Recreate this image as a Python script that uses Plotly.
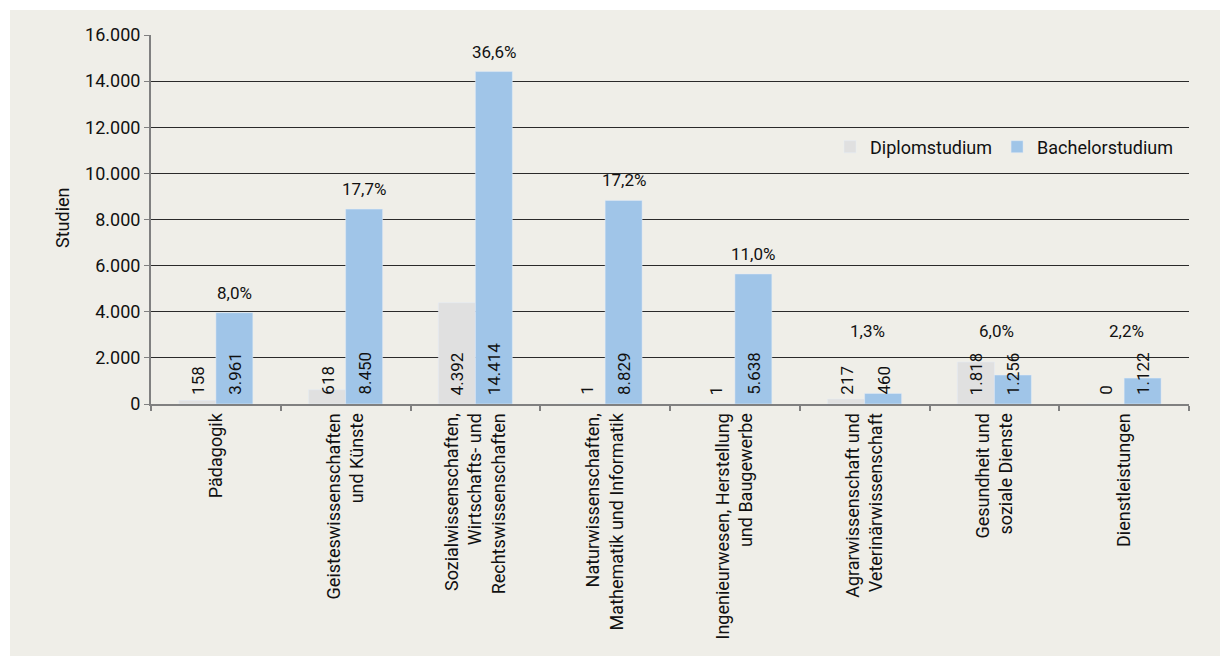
import plotly.graph_objects as go

# ---- data ----
categories = [
    "Pädagogik",
    "Geisteswissenschaften<br>und Künste",
    "Sozialwissenschaften,<br>Wirtschafts- und<br>Rechtswissenschaften",
    "Naturwissenschaften,<br>Mathematik und Informatik",
    "Ingenieurwesen, Herstellung<br>und Baugewerbe",
    "Agrarwissenschaft und<br>Veterinärwissenschaft",
    "Gesundheit und<br>soziale Dienste",
    "Dienstleistungen",
]
diplom = [158, 618, 4392, 1, 1, 217, 1818, 0]
bachelor = [3961, 8450, 14414, 8829, 5638, 460, 1256, 1122]
share_labels = ["8,0%", "17,7%", "36,6%", "17,2%", "11,0%", "1,3%", "6,0%", "2,2%"]

y_ticks = list(range(0, 16001, 2000))

FONT = "Roboto, Liberation Sans, sans-serif"
GRAY = "#e0e0e0"
BLUE = "#a0c5e8"
PANEL = "#efeee8"

# body margin is removed in the page (see post_script), figure fills the window
W, H = 1220, 656
L, T = 151, 35
PW, PH = 1038, 369
R, B = W - L - PW, H - T - PH

BARGAP = 0.43
HALF = (1 - BARGAP) / 4  # offset of each bar centre from the category centre


def fmt(v):
    return f"{v:,}".replace(",", ".")


# pixel -> paper coordinate
def px_x(px):
    return (px - L) / PW


def px_y(py):
    return (T + PH - py) / PH


fig = go.Figure()
fig.add_trace(go.Bar(x=categories, y=diplom, name="Diplomstudium",
                     marker_color=GRAY, hoverinfo="skip"))
fig.add_trace(go.Bar(x=categories, y=bachelor, name="Bachelorstudium",
                     marker_color=BLUE, hoverinfo="skip"))

annotations = []
# vertical value labels sitting on the baseline
for i, (d, b) in enumerate(zip(diplom, bachelor)):
    for val, off in ((d, -HALF), (b, HALF)):
        annotations.append(dict(
            x=i + off, y=0, xref="x", yref="y", text=fmt(val),
            textangle=-90, showarrow=False, xanchor="center", yanchor="bottom",
            yshift=7, font=dict(family=FONT, size=17, color="#111"),
        ))
# share labels above the groups
for i, (b, lab) in enumerate(zip(bachelor, share_labels)):
    small = b < 2300
    annotations.append(dict(
        x=i + (0.02 if small else HALF), y=max(b, 2300), xref="x", yref="y",
        text=lab, showarrow=False, xanchor="center", yanchor="middle",
        yshift=20, font=dict(family=FONT, size=17, color="#111"),
    ))
# y axis title
annotations.append(dict(
    x=px_x(62), y=px_y(218), xref="paper", yref="paper", text="Studien",
    textangle=-90, showarrow=False, xanchor="center", yanchor="middle",
    font=dict(family=FONT, size=18, color="#111"),
))

fig.update_layout(
    width=W, height=H,
    margin=dict(l=L, r=R, t=T, b=B, autoexpand=False),
    paper_bgcolor="white",
    plot_bgcolor="white",
    separators=",.",
    barmode="group",
    bargap=BARGAP,
    bargroupgap=0,
    font=dict(family=FONT, size=18, color="#111"),
    showlegend=True,
    legend=dict(
        orientation="h", x=px_x(830), y=px_y(147), xanchor="left", yanchor="middle",
        bgcolor="rgba(0,0,0,0)", font=dict(family=FONT, size=18, color="#111"),
        itemclick=False, itemdoubleclick=False, traceorder="normal",
    ),
    annotations=annotations,
    shapes=[dict(
        type="rect", xref="paper", yref="paper", layer="below",
        x0=px_x(10), x1=px_x(W + 10), y0=px_y(H + 10), y1=px_y(10),
        fillcolor=PANEL, line=dict(width=0),
    )],
    xaxis=dict(
        type="category", tickangle=-90, tickson="boundaries",
        ticks="outside", ticklen=5, tickwidth=2, tickcolor="#808080",
        showline=True, linecolor="#808080", linewidth=2,
        showgrid=False, automargin=False,
        tickfont=dict(family=FONT, size=18, color="#111"),
    ),
    yaxis=dict(
        range=[0, 16000], tickvals=y_ticks, tickformat=",d",
        ticks="outside", ticklen=5, tickcolor="#808080", tickwidth=1,
        showline=True, linecolor="#808080", linewidth=2,
        showgrid=True, gridcolor="#2a2a2a", gridwidth=1,
        zeroline=False, automargin=False,
        tickfont=dict(family=FONT, size=18, color="#111"),
    ),
)

fig.write_html(
    "out.html",
    config={"displayModeBar": False},
    post_script="document.body.style.margin='0';document.body.style.overflow='hidden';",
)
